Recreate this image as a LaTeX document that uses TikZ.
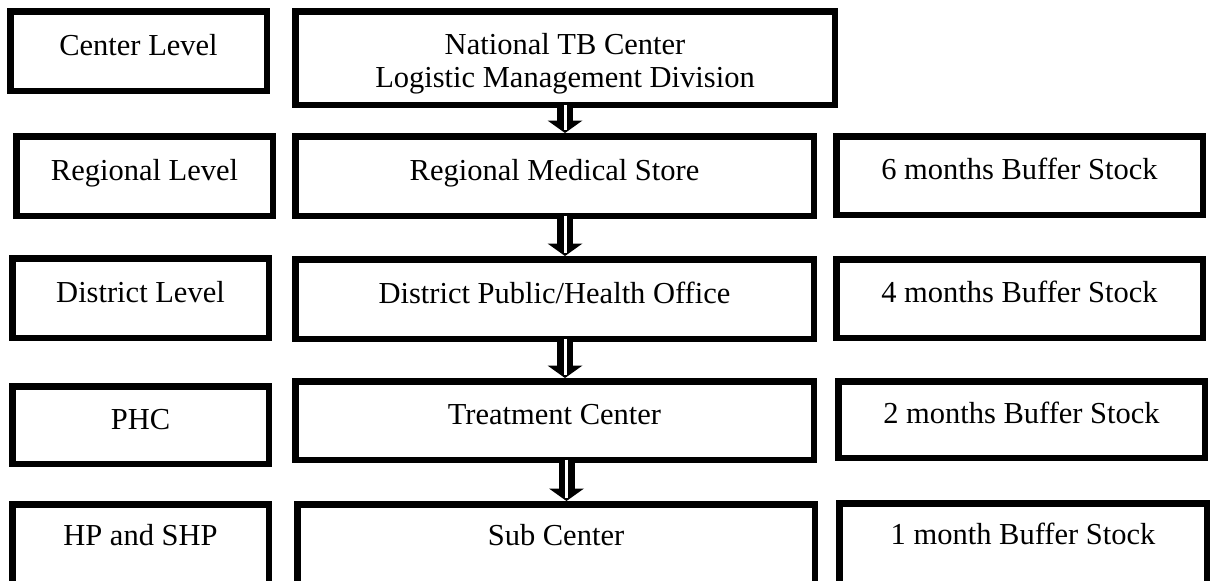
\documentclass[tikz,border=0pt]{standalone}
\usepackage{fontspec}
\setmainfont{Liberation Serif}
\usetikzlibrary{calc}
\tikzset{
  box/.style={draw=black, line width=6.5pt, fill=white, inner sep=0pt, outer sep=0pt,
    font=\fontsize{30.5}{33}\selectfont},
  lbl/.style={text height=24pt, text depth=16pt},
  lastrow/.style={text height=24pt, text depth=30pt},
  shaft/.style={draw=black, line width=6.5pt, double=white, double distance=3pt},
}
\newcommand\dblarrow[2]{%
  \coordinate (tip) at ($(#2.north)+(0,-3.25)$);
  \coordinate (tip) at ($(tip)+(10.5,0)$);
  \coordinate (tail) at (tip |- #1.south);
  \draw[shaft] (tail) -- ($(tip)+(0,-12)$);
  \fill[black] ($(tip)+(-17.5,-12.5)$) -- ($(tip)+(17.5,-12.5)$) -- (tip) -- cycle;
  \draw[white, line width=3pt] ($(tip)+(0,-13.5)$) -- ($(tip)+(0,-3)$);
}
\begin{document}
\begin{tikzpicture}[x=1pt, y=-1pt]
\useasboundingbox (0,0) rectangle (1211,581);
\clip (0,0) rectangle (1211,581);
\fill[white] (0,0) rectangle (1211,581);
% row 1
\node[box, lbl, minimum width=256.5pt, minimum height=79.5pt] (l1) at (138.5,51) {Center Level};
\node[box, text height=40pt, text depth=15pt, minimum width=539.5pt, minimum height=93.5pt] (c1) at (565,58) {\begin{tabular}{@{}c@{}}National TB Center\\Logistic Management Division\end{tabular}};
% row 2
\node[box, lbl, minimum width=256.5pt, minimum height=79.5pt] (l2) at (144.5,176) {Regional Level};
\node[box, lbl, minimum width=518.5pt, minimum height=79.5pt] (c2) at (554.5,176) {Regional Medical Store};
\node[box, lbl, minimum width=366.5pt, minimum height=78.5pt] (r2) at (1019.5,175.5) {6 months Buffer Stock};
% row 3
\node[box, lbl, minimum width=256.5pt, minimum height=79.5pt] (l3) at (140.5,298) {District Level};
\node[box, lbl, minimum width=518.5pt, minimum height=79.5pt] (c3) at (554.5,299) {District Public/Health Office};
\node[box, lbl, minimum width=366.5pt, minimum height=78.5pt] (r3) at (1019.5,298.5) {4 months Buffer Stock};
% row 4
\node[box, lbl, minimum width=256.5pt, minimum height=77.5pt] (l4) at (140.5,425) {PHC};
\node[box, lbl, minimum width=518.5pt, minimum height=78.5pt] (c4) at (554.5,420.5) {Treatment Center};
\node[box, lbl, minimum width=366.5pt, minimum height=76.5pt] (r4) at (1021.5,419.5) {2 months Buffer Stock};
% row 5
\node[box, lastrow, minimum width=256.5pt, minimum height=87.5pt] (l5) at (140.5,548) {HP and SHP};
\node[box, lastrow, minimum width=517.5pt, minimum height=87.5pt] (c5) at (556,548) {Sub Center};
\node[box, lastrow, minimum width=367.5pt, minimum height=88.5pt] (r5) at (1023,547.5) {1 month Buffer Stock};
% arrows
\coordinate (tip) at ($(c2.north)+(10.5,-3.25)$);
\coordinate (tail) at (tip |- c1.south);
\draw[shaft] (tail) -- ($(tip)+(0,-12)$);
\fill[black] ($(tip)+(-17.5,-12.5)$) -- ($(tip)+(17.5,-12.5)$) -- (tip) -- cycle;
\draw[white, line width=3pt] ($(tip)+(0,-13.5)$) -- ($(tip)+(0,-3)$);
\dblarrow{c2}{c3}
\dblarrow{c3}{c4}
\dblarrow{c4}{c5}
\end{tikzpicture}
\end{document}
